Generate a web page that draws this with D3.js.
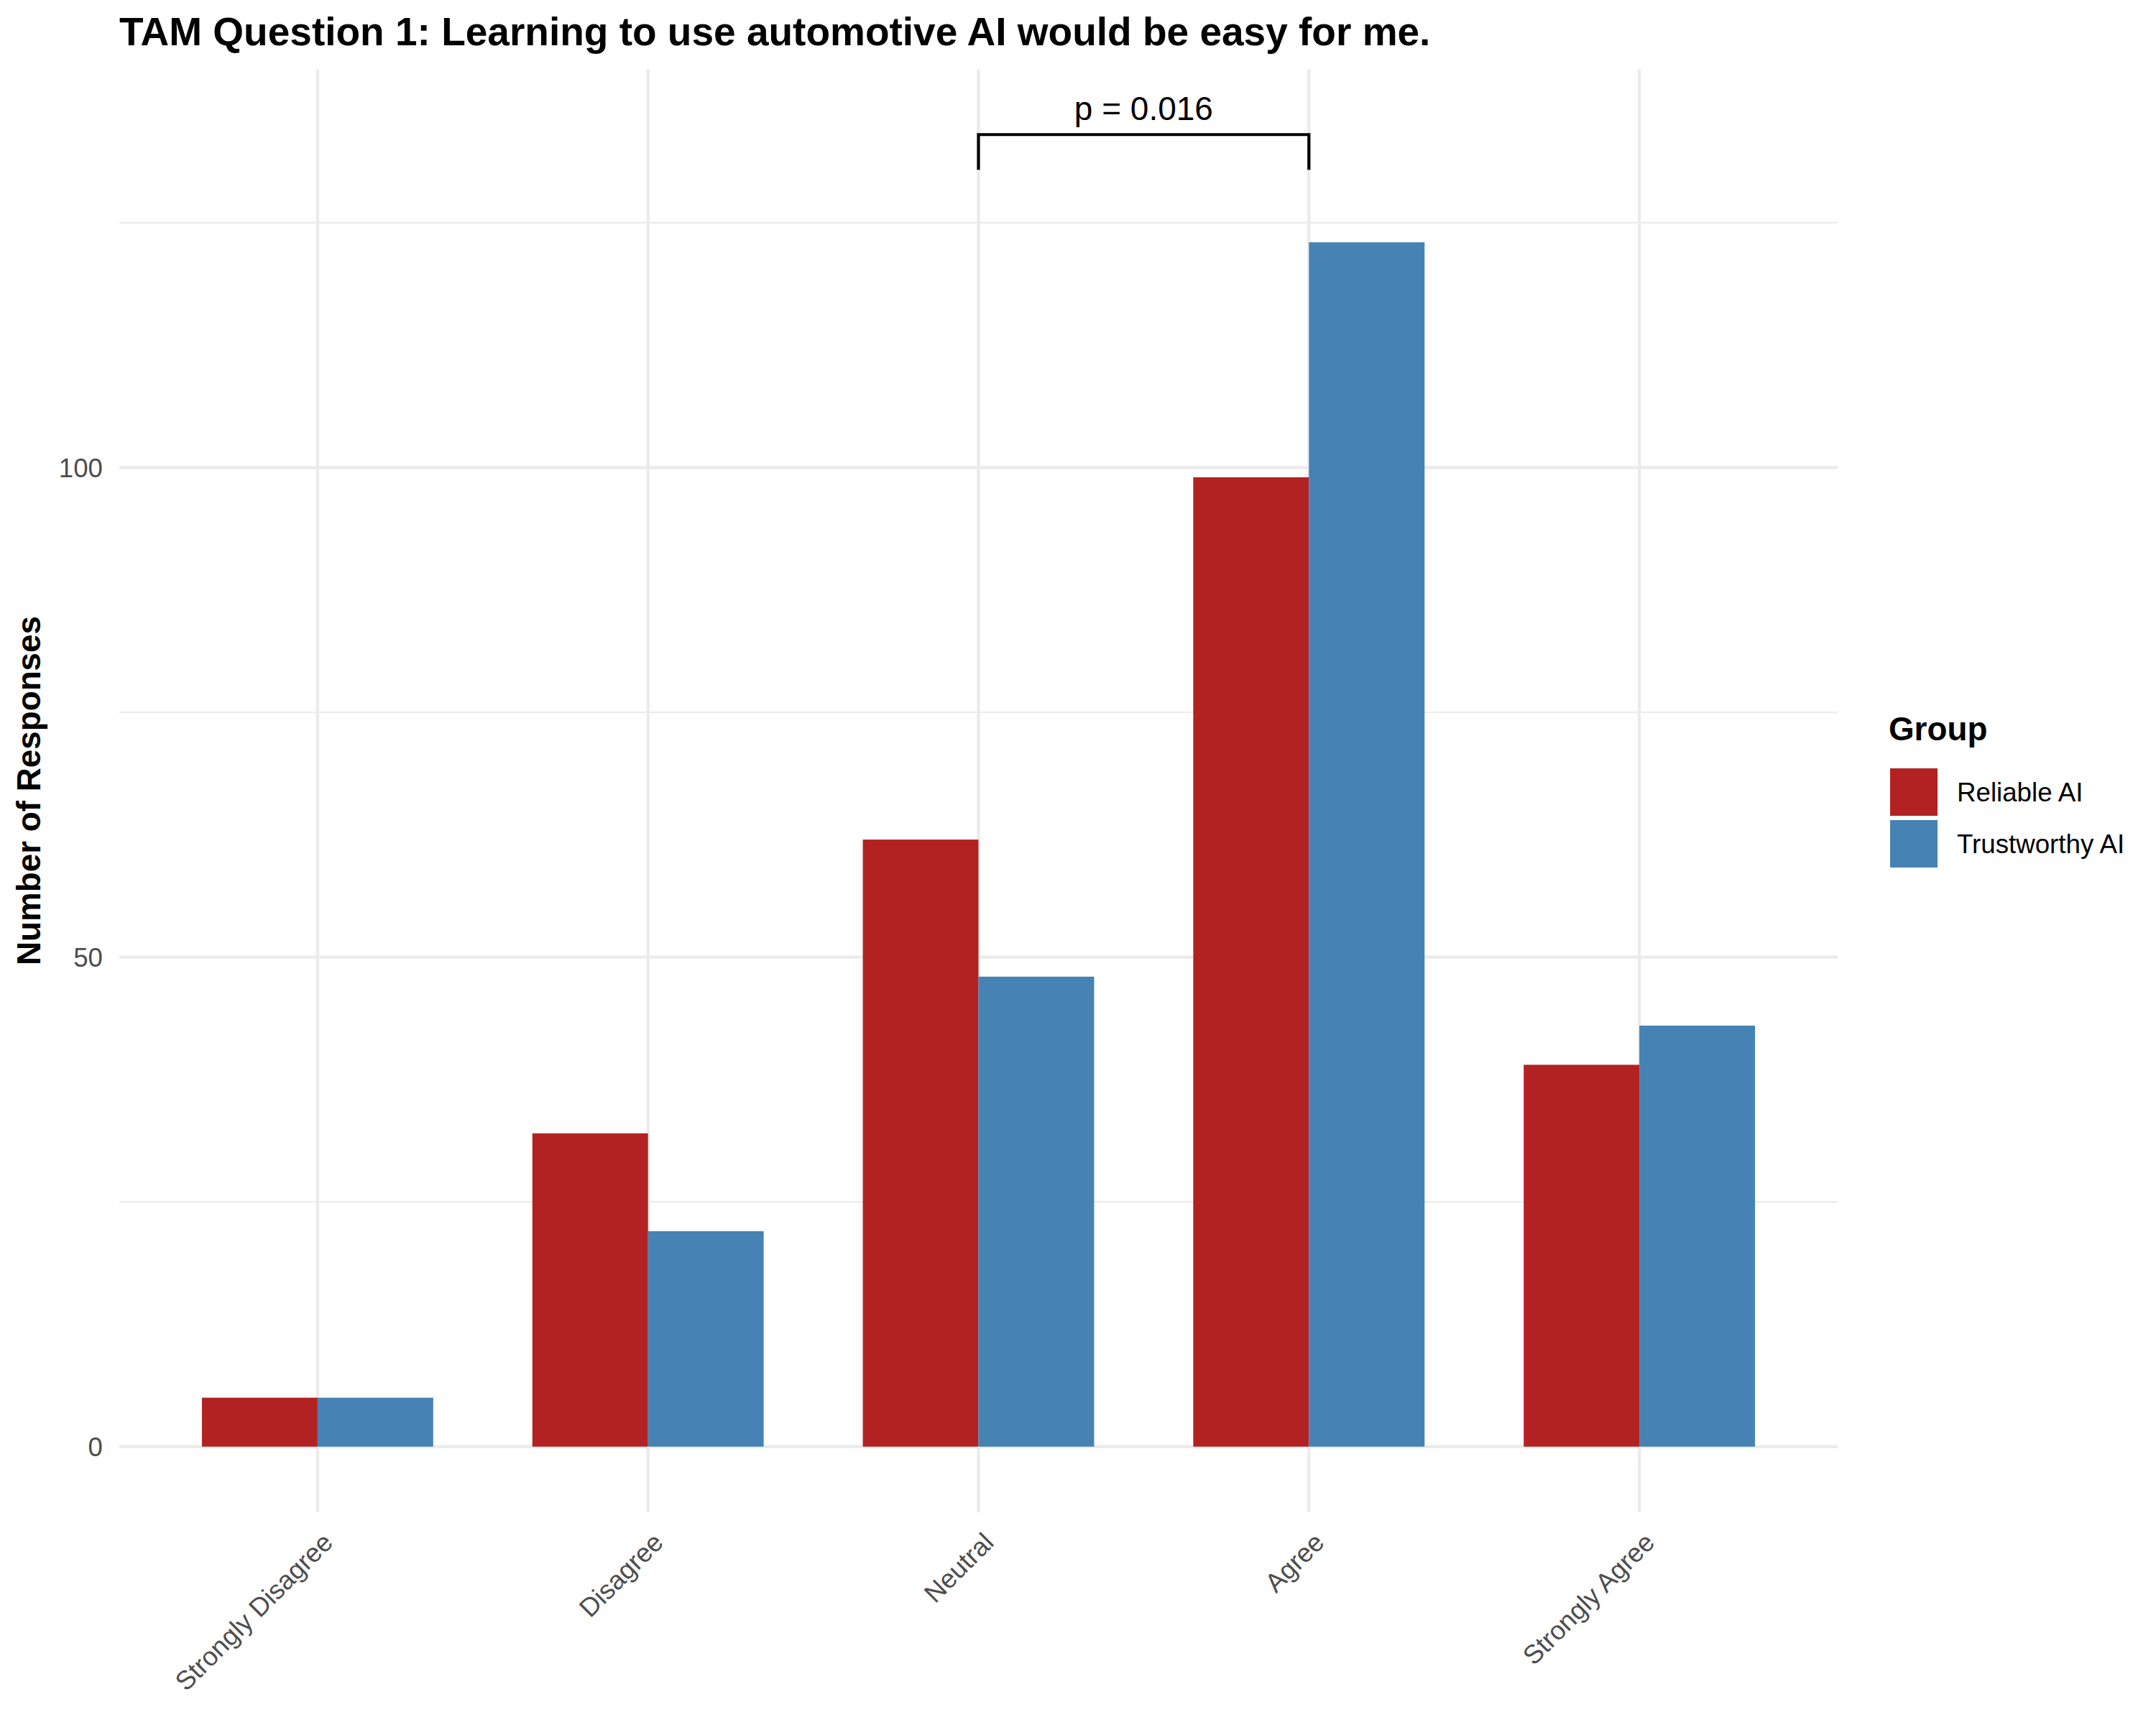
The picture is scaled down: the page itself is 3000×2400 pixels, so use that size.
<!DOCTYPE html>
<html>
<head>
<meta charset="utf-8">
<script src="https://cdn.jsdelivr.net/npm/d3@7"></script>
<style>
  html, body { margin: 0; padding: 0; background: #ffffff; }
  svg { display: block; }
  text { font-family: "Liberation Sans", Arial, Helvetica, sans-serif; }
</style>
</head>
<body>
<script>
// ---------------- data ----------------
const categories = ["Strongly Disagree", "Disagree", "Neutral", "Agree", "Strongly Agree"];
const groups = ["Reliable AI", "Trustworthy AI"];
const reliableValues = [5, 32, 62, 99, 39];
const trustworthyValues = [5, 22, 48, 123, 43];
const groupColors = ["#B22222", "#4682B4"];
const yTickValues = [0, 50, 100];
const yMinorTickValues = [25, 75, 125];
const bracketPair = ["Neutral", "Agree"];
const bracketTop = 134;
const bracketTickBottom = 130.4;
const pValueLabel = "p = 0.016";
const titleText = "TAM Question 1: Learning to use automotive AI would be easy for me.";
const yAxisTitle = "Number of Responses";
const legendTitle = "Group";

// ---------------- layout ----------------
const W = 3000, H = 2400;
const panel = { left: 166, right: 2557, top: 96, bottom: 2104 };

const svg = d3.select("body").append("svg")
  .attr("width", W).attr("height", H)
  .attr("viewBox", `0 0 ${W} ${H}`);

svg.append("rect").attr("width", W).attr("height", H).attr("fill", "#ffffff");

const x = d3.scaleBand()
  .domain(categories)
  .range([panel.left, panel.right])
  .paddingInner(0)
  .paddingOuter(0.1);

const xSub = d3.scaleBand()
  .domain(groups)
  .range([x.bandwidth() * 0.15, x.bandwidth() * 0.85])
  .padding(0);

const y = d3.scaleLinear()
  .domain([-6.7, 140.7])
  .range([panel.bottom, panel.top]);

const color = d3.scaleOrdinal().domain(groups).range(groupColors);

const rows = categories.map((c, i) => ({
  category: c,
  values: [
    { group: groups[0], value: reliableValues[i] },
    { group: groups[1], value: trustworthyValues[i] }
  ]
}));

// ---------------- grid ----------------
const grid = svg.append("g");
grid.selectAll("line.minor").data(yMinorTickValues).enter().append("line")
  .attr("x1", panel.left).attr("x2", panel.right)
  .attr("y1", d => y(d)).attr("y2", d => y(d))
  .attr("stroke", "#EBEBEB").attr("stroke-width", 2.2);
grid.selectAll("line.major").data(yTickValues).enter().append("line")
  .attr("x1", panel.left).attr("x2", panel.right)
  .attr("y1", d => y(d)).attr("y2", d => y(d))
  .attr("stroke", "#EBEBEB").attr("stroke-width", 4.4);
grid.selectAll("line.vmajor").data(categories).enter().append("line")
  .attr("x1", d => x(d) + x.bandwidth() / 2).attr("x2", d => x(d) + x.bandwidth() / 2)
  .attr("y1", panel.top).attr("y2", panel.bottom)
  .attr("stroke", "#EBEBEB").attr("stroke-width", 4.4);

// ---------------- bars ----------------
const barGroups = svg.append("g").selectAll("g").data(rows).enter().append("g")
  .attr("transform", d => `translate(${x(d.category)},0)`);
barGroups.selectAll("rect").data(d => d.values).enter().append("rect")
  .attr("x", d => xSub(d.group))
  .attr("width", xSub.bandwidth())
  .attr("y", d => y(d.value))
  .attr("height", d => y(0) - y(d.value))
  .attr("fill", d => color(d.group));

// ---------------- significance bracket ----------------
const bx1 = x(bracketPair[0]) + x.bandwidth() / 2;
const bx2 = x(bracketPair[1]) + x.bandwidth() / 2;
const bracketPath = d3.path();
bracketPath.moveTo(bx1, y(bracketTickBottom));
bracketPath.lineTo(bx1, y(bracketTop));
bracketPath.lineTo(bx2, y(bracketTop));
bracketPath.lineTo(bx2, y(bracketTickBottom));
svg.append("path").attr("d", bracketPath.toString())
  .attr("fill", "none").attr("stroke", "#000000").attr("stroke-width", 4.2)
  .attr("stroke-linejoin", "miter").attr("stroke-linecap", "butt");
svg.append("text")
  .attr("x", (bx1 + bx2) / 2).attr("y", y(bracketTop) - 20)
  .attr("text-anchor", "middle")
  .attr("font-size", 46).attr("fill", "#000000")
  .text(pValueLabel);

// ---------------- axes ----------------
const yAxis = svg.append("g")
  .attr("transform", `translate(${panel.left},0)`)
  .call(d3.axisLeft(y).tickValues(yTickValues).tickSize(0).tickPadding(23).tickFormat(d3.format("d")));
yAxis.select(".domain").remove();
yAxis.selectAll("text")
  .attr("font-size", 36.7).attr("fill", "#4D4D4D")
  .attr("font-family", "\"Liberation Sans\", Arial, Helvetica, sans-serif")
  .attr("dy", "0.35em");

const xAxis = svg.append("g")
  .attr("transform", `translate(0,${panel.bottom})`)
  .call(d3.axisBottom(x).tickSize(0));
xAxis.select(".domain").remove();
xAxis.selectAll("text")
  .attr("font-size", 36.7).attr("fill", "#4D4D4D")
  .attr("font-family", "\"Liberation Sans\", Arial, Helvetica, sans-serif")
  .attr("x", 0).attr("y", 0)
  .attr("dy", "0.9em")
  .attr("text-anchor", "end")
  .attr("transform", "translate(0,21) rotate(-45)");

// ---------------- titles ----------------
svg.append("text")
  .attr("x", panel.left).attr("y", 63)
  .attr("font-size", 55).attr("font-weight", "bold").attr("fill", "#000000")
  .text(titleText);

svg.append("text")
  .attr("transform", `translate(56,${(panel.top + panel.bottom) / 2}) rotate(-90)`)
  .attr("text-anchor", "middle")
  .attr("font-size", 45.8).attr("font-weight", "bold").attr("fill", "#000000")
  .text(yAxisTitle);

// ---------------- legend ----------------
const legend = svg.append("g").attr("transform", "translate(2628,0)");
legend.append("text")
  .attr("x", 0).attr("y", 1030)
  .attr("font-size", 45.8).attr("font-weight", "bold").attr("fill", "#000000")
  .text(legendTitle);
const items = legend.selectAll("g.item").data(groups).enter().append("g")
  .attr("transform", (d, i) => `translate(0,${1069 + i * 72})`);
items.append("rect")
  .attr("x", 2).attr("y", 0).attr("width", 66).attr("height", 66)
  .attr("fill", d => color(d));
items.append("text")
  .attr("x", 95).attr("y", 33).attr("dy", "0.36em")
  .attr("font-size", 36.7).attr("fill", "#000000")
  .text(d => d);
</script>
</body>
</html>
